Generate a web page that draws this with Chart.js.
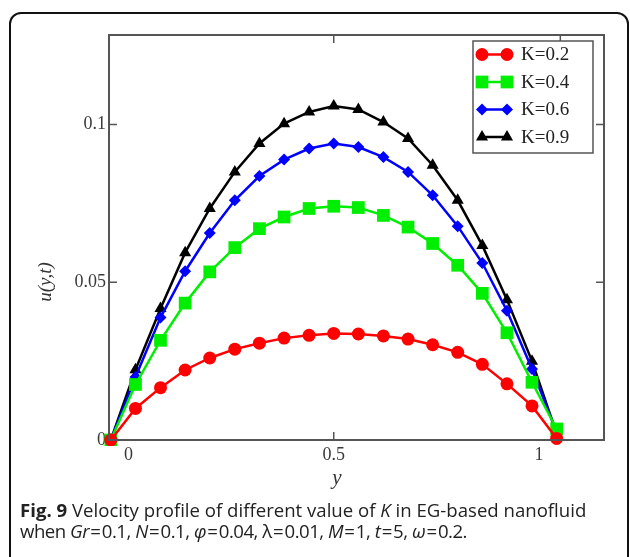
<!DOCTYPE html>
<html>
<head>
<meta charset="utf-8">
<script src="https://cdn.jsdelivr.net/npm/chart.js@4.4.1/dist/chart.umd.min.js"></script>
<style>
  html, body { margin: 0; padding: 0; background: #fff; }
  body { width: 630px; height: 557px; position: relative; overflow: hidden; }
  .frame {
    position: absolute; left: 9px; top: 12px; width: 616px; height: 600px;
    border: 2px solid #111; border-radius: 12px;
  }
  #wrap { position: absolute; left: 0; top: 0; width: 630px; height: 557px; }
  .caption {
    position: absolute; left: 20px; top: 499px; width: 610px;
    font-family: "Open Sans", sans-serif; font-size: 18.6px; line-height: 21px;
    color: #222; white-space: nowrap;
  }
  .caption b { font-weight: 700; }
  .eq { letter-spacing: -0.5px; }
</style>
</head>
<body>
<div class="frame"></div>
<div id="wrap"><canvas id="velocityChart" width="630" height="557"></canvas></div>
<div class="caption">
  <b>Fig. 9</b> Velocity profile of different value of <i>K</i> in EG-based nanofluid<br>
  <span class="eq">when <i>Gr</i>&#8202;=&#8202;0.1, <i>N</i>&#8202;=&#8202;0.1, <i>φ</i>&#8202;=&#8202;0.04, λ&#8202;=&#8202;0.01, <i>M</i>&#8202;=&#8202;1, <i>t</i>&#8202;=&#8202;5, <i>ω</i>&#8202;=&#8202;0.2.</span>
</div>
<script>
// y positions across the channel (horizontal axis)
const yPos = [-0.043, 0.017, 0.078, 0.138, 0.198, 0.259, 0.319, 0.379, 0.440, 0.500,
              0.560, 0.621, 0.681, 0.741, 0.802, 0.862, 0.922, 0.983, 1.043];

// velocity u(y,t) for each K
const uK02 = [0, 0.0100, 0.0166, 0.0222, 0.0260, 0.0288, 0.0307, 0.0323, 0.0332, 0.0338,
              0.0336, 0.0330, 0.0320, 0.0302, 0.0278, 0.0240, 0.0178, 0.0108, 0.0005];
const uK04 = [0, 0.0176, 0.0316, 0.0434, 0.0533, 0.0610, 0.0670, 0.0707, 0.0734, 0.0741,
              0.0737, 0.0712, 0.0675, 0.0623, 0.0554, 0.0465, 0.0340, 0.0183, 0.0035];
const uK06 = [0, 0.0200, 0.0388, 0.0535, 0.0656, 0.0760, 0.0837, 0.0889, 0.0924, 0.0940,
              0.0929, 0.0897, 0.0850, 0.0776, 0.0678, 0.0561, 0.0410, 0.0225, 0.0025];
const uK09 = [0, 0.0223, 0.0417, 0.0594, 0.0734, 0.0850, 0.0940, 0.1003, 0.1040, 0.1059,
              0.1048, 0.1008, 0.0956, 0.0871, 0.0760, 0.0617, 0.0445, 0.0250, 0.0020];

const seriesLabels = ["K=0.2", "K=0.4", "K=0.6", "K=0.9"];

const xTicks = [0, 0.5, 1];
const yTicks = [0, 0.05, 0.1];

const serif = "'Liberation Serif', 'Times New Roman', serif";
const axisColor = "#555";

function pts(ys) {
  return ys.map((v, i) => ({ x: yPos[i], y: v }));
}

function makeSet(label, ys, color, style, radius) {
  return {
    label: label,
    data: pts(ys),
    borderColor: color,
    backgroundColor: color,
    borderWidth: 2.5,
    pointStyle: style,
    pointRadius: radius,
    pointHoverRadius: radius,
    pointBorderWidth: 0,
    tension: 0,
    clip: 6,
  };
}

// frame, inward ticks, custom legend and axis titles
const decorPlugin = {
  id: "decor",
  afterDraw(chart) {
    const ctx = chart.ctx;
    const a = chart.chartArea;
    const xs = chart.scales.x;
    const ys = chart.scales.y;
    ctx.save();
    ctx.strokeStyle = axisColor;
    ctx.lineWidth = 2;
    ctx.strokeRect(a.left, a.top, a.right - a.left, a.bottom - a.top);

    ctx.lineWidth = 1.5;
    ctx.beginPath();
    [0.05, 0.1].forEach((v) => {
      const py = ys.getPixelForValue(v);
      ctx.moveTo(a.left, py); ctx.lineTo(a.left + 8, py);
      ctx.moveTo(a.right, py); ctx.lineTo(a.right - 8, py);
    });
    const pb = xs.getPixelForValue(0.5);
    ctx.moveTo(pb, a.bottom); ctx.lineTo(pb, a.bottom - 8);
    [0.5, 1.052].forEach((v) => {
      const px = xs.getPixelForValue(v);
      ctx.moveTo(px, a.top); ctx.lineTo(px, a.top + 8);
    });
    ctx.stroke();

    // legend
    const lx = 473, ly = 41, lw = 120, lh = 112;
    ctx.fillStyle = "#fff";
    ctx.fillRect(lx, ly, lw, lh);
    ctx.strokeStyle = axisColor;
    ctx.lineWidth = 1.5;
    ctx.strokeRect(lx, ly, lw, lh);
    ctx.font = "19px " + serif;
    ctx.textBaseline = "middle";
    chart.data.datasets.forEach((ds, i) => {
      const rowY = 54.5 + i * 27.5;
      ctx.strokeStyle = ds.borderColor;
      ctx.fillStyle = ds.backgroundColor;
      ctx.lineWidth = 2.5;
      ctx.beginPath();
      ctx.moveTo(482, rowY); ctx.lineTo(507, rowY);
      ctx.stroke();
      [482, 507].forEach((mx) => {
        Chart.helpers.drawPoint(ctx, { pointStyle: ds.pointStyle, radius: ds.pointRadius, borderWidth: 0, rotation: 0 }, mx, rowY);
      });
      ctx.fillStyle = "#222";
      ctx.textAlign = "left";
      ctx.fillText(ds.label, 521, rowY + 1);
    });

    // axis titles
    ctx.fillStyle = "#333";
    ctx.font = "italic 21px " + serif;
    ctx.textAlign = "center";
    ctx.textBaseline = "middle";
    ctx.fillText("y", 337, 478);
    ctx.save();
    ctx.translate(46, 282);
    ctx.rotate(-Math.PI / 2);
    ctx.font = "italic 19px " + serif;
    ctx.fillText("u(y,t)", 0, 0);
    ctx.restore();
    ctx.restore();
  },
};

new Chart(document.getElementById("velocityChart"), {
  type: "line",
  data: {
    datasets: [
      makeSet(seriesLabels[0], uK02, "#ff0000", "circle", 6.5),
      makeSet(seriesLabels[1], uK04, "#00ee00", "rect", 9),
      makeSet(seriesLabels[2], uK06, "#0000ff", "rectRot", 6),
      makeSet(seriesLabels[3], uK09, "#000000", "triangle", 7),
    ],
  },
  options: {
    responsive: false,
    animation: false,
    events: [],
    layout: { padding: { left: 0, top: 35, right: 26, bottom: 67 } },
    plugins: {
      legend: { display: false },
      tooltip: { enabled: false },
    },
    scales: {
      x: {
        type: "linear",
        min: -0.0475,
        max: 1.1584,
        afterBuildTicks: (scale) => { scale.ticks = xTicks.map((v) => ({ value: v })); },
        afterFit: (scale) => { scale.height = 50; },
        grid: { display: false, drawTicks: false },
        border: { display: false },
        ticks: {
          padding: 4,
          color: "#3a3a3a",
          font: { family: serif, size: 18 },
          callback: (v) => String(v),
        },
      },
      y: {
        type: "linear",
        min: 0,
        max: 0.1284,
        afterBuildTicks: (scale) => { scale.ticks = yTicks.map((v) => ({ value: v })); },
        afterFit: (scale) => { scale.width = 109; },
        grid: { display: false, drawTicks: false },
        border: { display: false },
        ticks: {
          padding: 3,
          color: "#3a3a3a",
          font: { family: serif, size: 18 },
          callback: (v) => String(v),
        },
      },
    },
  },
  plugins: [decorPlugin],
});
</script>
</body>
</html>
